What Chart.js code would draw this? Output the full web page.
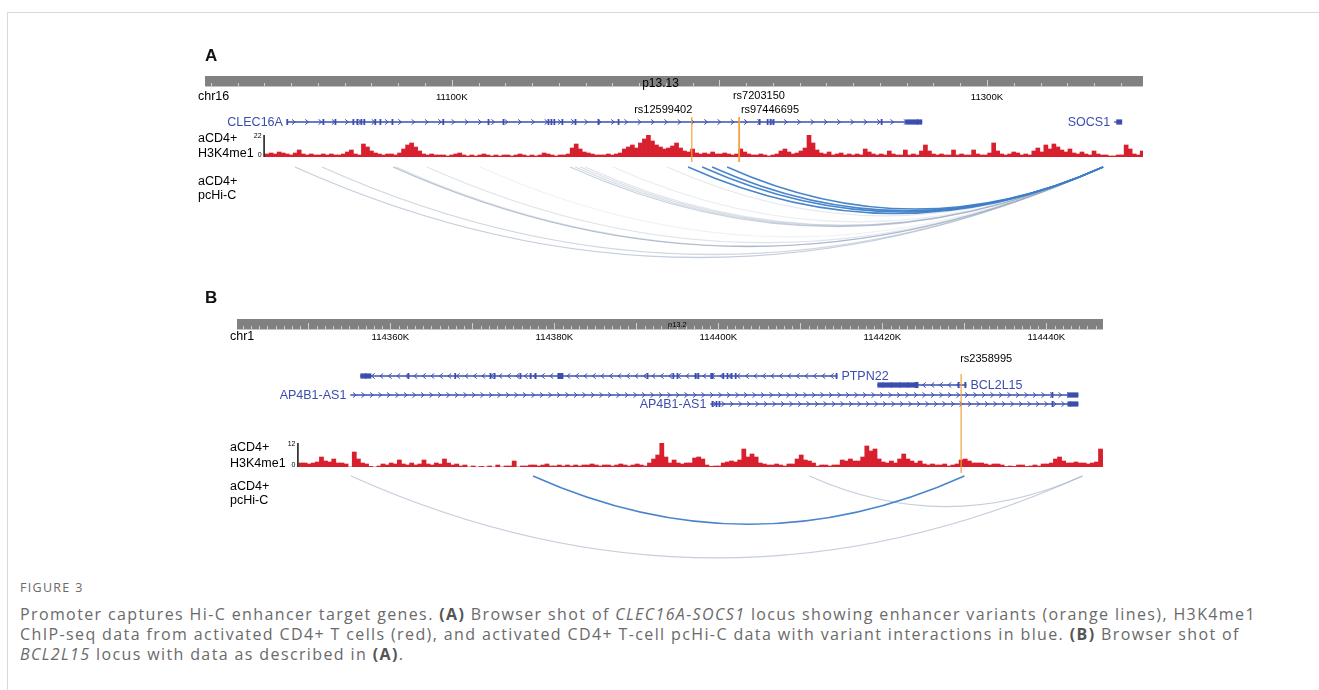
<!DOCTYPE html>
<html>
<head>
<meta charset="utf-8">
<script src="https://cdn.jsdelivr.net/npm/chart.js@4.4.1/dist/chart.umd.min.js"></script>
<style>
html, body { margin: 0; padding: 0; background: #fff; }
body { width: 1319px; height: 690px; position: relative; overflow: hidden; }
#frame { position: absolute; left: 7px; top: 12px; right: -2px; bottom: -2px; border-top: 1px solid #d9d9d9; border-left: 1px solid #d9d9d9; }
canvas { position: absolute; left: 0; }
#cA { top: 0; }
#cB { top: 280px; }
#fig { position: absolute; left: 20px; top: 581px; font: 12.5px/14px "Open Sans", sans-serif; letter-spacing: 1.3px; color: #6a6a6a; }
#cap { position: absolute; left: 20px; top: 604px; font: 16px/20px "Open Sans", sans-serif; letter-spacing: 1.38px; color: #6a6a6a; white-space: nowrap; }
#cap b { color: #555; font-weight: 700; }
</style>
</head>
<body>
<div id="frame"></div>
<canvas id="cA" width="1319" height="280"></canvas>
<canvas id="cB" width="1319" height="290"></canvas>
<div id="fig">FIGURE 3</div>
<div id="cap">Promoter captures Hi-C enhancer target genes. <b>(A)</b> Browser shot of <i>CLEC16A-SOCS1</i> locus showing enhancer variants (orange lines), H3K4me1<br>ChIP-seq data from activated CD4+ T cells (red), and activated CD4+ T-cell pcHi-C data with variant interactions in blue. <b>(B)</b> Browser shot of<br><i>BCL2L15</i> locus with data as described in <b>(A)</b>.</div>
<script>
// ---------- Panel A : chr16, CLEC16A - SOCS1 (positions in kb) ----------
const viewA = [11007.8, 11358.3];
const chromA = 'chr16';
const bandA = 'p13.13';
const bandPosA = 11178;
const tickPosA = [11100, 11300];
const tickLabelsA = ['11100K', '11300K'];

const geneNameA = ['CLEC16A', 'SOCS1'];
const geneStartA = [11038.4, 11347.5];
const geneEndA = [11275.8, 11350.5];
const geneStrandA = ['+', '-'];
const geneThickA = [[11269.5, 11275.8], [11348.3, 11350.5]];
const geneExonsA = [
    [[11038.2, 11038.8], [11051.7, 11052.1], [11056.2, 11056.6], [11062.9, 11063.3], [11064.4, 11064.8],
     [11065.9, 11066.3], [11067.0, 11067.4], [11071.1, 11071.5], [11073.0, 11073.4], [11077.5, 11077.9],
     [11096.5, 11096.9], [11113.4, 11113.8], [11119.0, 11119.4], [11135.8, 11136.2], [11136.9, 11137.3],
     [11138.0, 11138.4], [11141.0, 11141.4], [11145.9, 11146.3], [11154.5, 11154.9], [11162.0, 11162.4],
     [11214.7, 11215.1], [11217.7, 11218.1], [11218.8, 11219.2], [11219.9, 11220.3], [11260.3, 11260.7]],
    []
];

const snpIdA = ['rs12599402', 'rs7203150', 'rs97446695'];
const snpPosA = [11189.7, 11207.3, 11207.5];

// H3K4me1 signal, 1.5 kb bins
const sigStartA = 11031;
const sigBinA = 1.5;
const sigMaxA = 22;
const sigA = [
    3, 4, 3, 5, 4, 3, 2, 4, 7, 3,
    2, 3, 2, 2, 3, 2, 3, 2, 2, 3,
    5, 7, 3, 2, 13, 10, 6, 4, 3, 2,
    3, 3, 2, 4, 8, 12, 14, 10, 6, 3,
    2, 3, 2, 2, 2, 1, 2, 3, 4, 2,
    1, 2, 1, 2, 3, 2, 1, 2, 1, 2,
    2, 1, 2, 3, 2, 1, 2, 1, 2, 4,
    3, 2, 1, 2, 2, 3, 9, 13, 8, 5,
    4, 3, 2, 2, 2, 3, 2, 3, 4, 8,
    10, 12, 9, 14, 18, 22, 16, 12, 10, 8,
    9, 11, 14, 9, 6, 5, 8, 4, 3, 4,
    3, 5, 3, 3, 4, 3, 2, 3, 8, 5,
    3, 2, 2, 3, 2, 1, 2, 3, 6, 8,
    5, 3, 4, 6, 9, 22, 14, 7, 4, 3,
    5, 2, 3, 4, 2, 3, 2, 3, 2, 8,
    5, 3, 2, 3, 2, 6, 3, 2, 2, 7,
    2, 3, 2, 6, 12, 6, 3, 2, 3, 2,
    2, 7, 2, 3, 2, 2, 7, 3, 2, 2,
    4, 14, 6, 3, 2, 3, 5, 4, 2, 3,
    2, 6, 9, 5, 12, 8, 13, 10, 7, 5,
    8, 4, 3, 5, 3, 2, 6, 3, 2, 2,
    1, 1, 2, 2, 12, 8, 3, 2, 6, 10
];

// pcHi-C interactions: other end, bait end, score (0-1), variant interaction
const arcFromA = [11041.4, 11051.5, 11078.1, 11079.2, 11090.8, 11110.6, 11144.2, 11146.1, 11148.0, 11149.8,
                  11160.3, 11180.5, 11188.3, 11193.6, 11197.3, 11202.9];
const arcToA = [11343.4, 11343.4, 11343.4, 11343.4, 11343.4, 11343.4, 11343.4, 11343.4, 11343.4, 11343.4,
                11343.4, 11343.4, 11343.4, 11343.4, 11343.4, 11343.4];
const arcScoreA = [0.55, 0.45, 0.7, 0.35, 0.3, 0.15, 0.5, 0.4, 0.35, 0.3, 0.2, 0.25, 1, 1, 1, 1];
const arcVariantA = [false, false, false, false, false, false, false, false, false, false, false, false, true, true, true, true];

// ---------- Panel B : chr1, PTPN22 / BCL2L15 ----------
const viewB = [114341.3, 114446.9];
const chromB = 'chr1';
const bandB = 'p13.2';
const bandPosB = 114395;
const tickPosB = [114360, 114380, 114400, 114420, 114440];
const tickLabelsB = ['114360K', '114380K', '114400K', '114420K', '114440K'];

const geneNameB = ['PTPN22', 'BCL2L15', 'AP4B1-AS1', 'AP4B1-AS1'];
const geneStartB = [114356.34, 114419.39, 114355.12, 114399.02];
const geneEndB = [114414.51, 114430.24, 114443.9, 114443.9];
const geneStrandB = ['-', '-', '+', '+'];
const geneThickB = [[114356.34, 114357.68], [114419.39, 114424.02], [114442.56, 114443.9], [114442.56, 114443.9]];
const geneExonsB = [
    [[114362.1, 114362.3], [114367.8, 114368.0], [114372.1, 114372.3], [114372.6, 114372.8], [114375.75, 114375.95],
     [114377.0, 114377.2], [114377.6, 114377.8], [114380.37, 114381.1], [114391.25, 114391.45], [114394.4, 114394.6],
     [114394.9, 114395.1], [114397.1, 114397.3], [114397.45, 114397.65], [114399.02, 114399.39], [114400.5, 114400.7],
     [114401.0, 114401.2], [114401.5, 114401.7], [114402.0, 114402.2], [114414.3, 114414.51]],
    [[114423.95, 114424.4], [114429.17, 114429.37], [114430.0, 114430.24]],
    [[114440.63, 114440.83]],
    [[114399.17, 114399.37], [114399.66, 114399.86], [114400.02, 114400.22], [114440.63, 114440.83]]
];

const snpIdB = ['rs2358995'];
const snpPosB = [114429.6];

// H3K4me1 signal, 0.5 kb bins
const sigStartB = 114349.1;
const sigBinB = 0.5;
const sigMaxB = 12;
const sigB = [
    2, 2, 1.5, 2, 2.5, 5, 3, 2.5, 4, 2,
    2, 1.5, 0, 7.5, 4, 2, 1.5, 0.3, 0, 0.5,
    1.5, 1, 2, 1.5, 3.5, 1.5, 1, 2, 1, 1.5,
    3.5, 1.5, 1, 2, 1.5, 4, 2, 1, 1.5, 0.5,
    1, 0, 0.5, 0, 0.3, 0, 0.5, 0, 1, 0,
    0.5, 0.5, 3, 0, 0.5, 0.5, 1, 1, 0.5, 1,
    1.5, 0.5, 0.5, 1, 0.5, 1, 0.5, 1, 0.5, 1,
    1, 1.5, 1, 0.5, 1, 1, 0.5, 1, 1.5, 1,
    0.5, 1, 1.5, 1, 0.5, 2, 4, 6, 12, 5,
    2, 3.5, 2, 1.5, 2, 2, 4.5, 5, 4, 1,
    0.3, 0.5, 0.5, 2, 2.5, 3, 2.5, 3.5, 9, 5,
    6.5, 5, 2, 1.5, 1, 1, 1.5, 1, 0.5, 1.5,
    1.5, 4, 6, 3.5, 3, 2, 0.5, 1, 1, 0.5,
    1, 1, 3.5, 3, 4, 3, 3, 5, 10.5, 8,
    9, 4, 2.5, 2, 3, 2, 4, 6.5, 4, 3,
    2, 3, 1.5, 1, 1.5, 1, 1, 1.5, 0.5, 1,
    1.5, 3.5, 4, 3, 2, 2, 2, 1.5, 1, 1.5,
    1.5, 1, 0.3, 0.5, 0.3, 1, 1, 0.3, 0.5, 1,
    0.5, 1.5, 1.5, 2, 4, 5, 3, 2, 2, 2.5,
    2, 2, 1.5, 2, 2.5, 9, 6
];

const arcFromB = [114355.2, 114377.4, 114411.1];
const arcToB = [114444.4, 114430.0, 114444.4];
const arcScoreB = [0.55, 1, 0.55];
const arcVariantB = [false, true, false];

// ---------- drawing ----------
const FONT = '"Liberation Sans", Arial, sans-serif';
const GENE_BLUE = '#3b4eae';
const SIG_RED = '#d81f2e';
const SNP_ORANGE = '#f3a23c';
const ARC_BLUE = '62, 126, 200';
const ARC_GREY = '150, 166, 190';

function drawGene(ctx, xs, i, P, L) {
    const y = L.geneRowY[i];
    const x1 = xs.getPixelForValue(P.gStart[i]);
    const x2 = xs.getPixelForValue(P.gEnd[i]);
    ctx.strokeStyle = GENE_BLUE;
    ctx.fillStyle = GENE_BLUE;
    ctx.lineWidth = 1.3;
    ctx.beginPath();
    ctx.moveTo(x1, y);
    ctx.lineTo(x2, y);
    ctx.stroke();

    // strand chevrons
    const dir = P.gStrand[i] === '+' ? 1 : -1;
    ctx.lineWidth = 1;
    ctx.beginPath();
    for (let cx = x1 + L.chevronGap / 2; cx < x2 - 3; cx += L.chevronGap) {
        ctx.moveTo(cx - 1.6 * dir, y - 2.6);
        ctx.lineTo(cx + 1.6 * dir, y);
        ctx.lineTo(cx - 1.6 * dir, y + 2.6);
    }
    ctx.stroke();

    P.gExons[i].forEach(([s, e]) => {
        const a = xs.getPixelForValue(s), b = xs.getPixelForValue(e);
        ctx.fillRect(a, y - 3, Math.max(b - a, 1.8), 6);
    });
    const t = P.gThick[i];
    if (t) {
        const a = xs.getPixelForValue(t[0]), b = xs.getPixelForValue(t[1]);
        ctx.fillRect(a, y - 2.6, b - a, 5.2);
    }

    ctx.font = '12.5px ' + FONT;
    ctx.textBaseline = 'middle';
    if (L.labelRight[i]) {
        ctx.textAlign = 'left';
        ctx.fillText(P.gName[i], x2 + 4, y + 0.5);
    } else {
        ctx.textAlign = 'right';
        ctx.fillText(P.gName[i], x1 - 4, y + 0.5);
    }
}

function drawArc(ctx, x1, x2, y0, color, width) {
    const span = Math.abs(x2 - x1);
    ctx.strokeStyle = color;
    ctx.lineWidth = width;
    ctx.beginPath();
    ctx.moveTo(x1, y0);
    ctx.quadraticCurveTo((x1 + x2) / 2, y0 + span * 0.224, x2, y0);
    ctx.stroke();
}

function tracksPlugin(P, L) {
    return {
        id: 'tracks',
        afterDraw(chart) {
            const ctx = chart.ctx;
            const xs = chart.scales.x, ys = chart.scales.y;
            ctx.save();
            ctx.translate(0, -L.top);

            // panel letter
            ctx.fillStyle = '#111';
            ctx.font = 'bold 17px ' + FONT;
            ctx.textAlign = 'left';
            ctx.textBaseline = 'alphabetic';
            ctx.fillText(L.letter, 205, L.letterY);

            // ideogram / ruler bar
            const rl = xs.left, rr = xs.right;
            ctx.fillStyle = '#818181';
            ctx.fillRect(rl, L.rulerTop, rr - rl, L.rulerBottom - L.rulerTop);
            ctx.fillStyle = '#c4c4c4';
            ctx.fillRect(rl, L.rulerBottom - 1, rr - rl, 1);
            ctx.strokeStyle = '#cfcfcf';
            ctx.lineWidth = 1;
            ctx.beginPath();
            const first = Math.ceil(xs.min / L.minor) * L.minor;
            for (let v = first; v <= xs.max; v += L.minor) {
                const px = Math.round(xs.getPixelForValue(v)) + 0.5;
                const isMajor = Math.abs(v / L.major - Math.round(v / L.major)) < 1e-6;
                const h = isMajor ? 6 : 3;
                ctx.moveTo(px, L.rulerBottom - 1);
                ctx.lineTo(px, L.rulerBottom - 1 - h);
            }
            ctx.stroke();

            ctx.fillStyle = '#000';
            ctx.font = L.bandFont + 'px ' + FONT;
            ctx.textAlign = 'center';
            ctx.fillText(P.band, xs.getPixelForValue(P.bandPos), L.bandY);

            ctx.font = '9.6px ' + FONT;
            P.tickPos.forEach((v, i) => {
                ctx.fillText(P.tickLabels[i], xs.getPixelForValue(v), L.tickLabelY);
            });
            ctx.font = '12.5px ' + FONT;
            ctx.textAlign = 'left';
            ctx.fillText(P.chrom, L.labelX, L.chromY);

            // genes
            P.gName.forEach((_, i) => drawGene(ctx, xs, i, P, L));

            // SNP lines and labels
            ctx.font = '11px ' + FONT;
            ctx.textBaseline = 'alphabetic';
            P.snpId.forEach((id, i) => {
                const px = xs.getPixelForValue(P.snpPos[i]);
                ctx.strokeStyle = SNP_ORANGE;
                ctx.lineWidth = 1.2;
                ctx.beginPath();
                ctx.moveTo(px, L.snpTop);
                ctx.lineTo(px, L.snpBottom);
                ctx.stroke();
                const lab = L.snpLabels[i];
                ctx.fillStyle = '#000';
                ctx.textAlign = lab.align;
                ctx.fillText(id, px + lab.dx, lab.y);
            });

            // signal axis
            const ax = xs.getPixelForValue(P.sigStart - P.sigBin / 2) - 1;
            ctx.strokeStyle = '#000';
            ctx.lineWidth = 1.4;
            ctx.beginPath();
            ctx.moveTo(ax, ys.getPixelForValue(P.sigMax) + L.top);
            ctx.lineTo(ax, ys.getPixelForValue(0) + L.top);
            ctx.stroke();
            ctx.fillStyle = '#000';
            ctx.font = '7px ' + FONT;
            ctx.textAlign = 'right';
            ctx.fillText(String(P.sigMax), ax - 2.5, ys.getPixelForValue(P.sigMax) + L.top + 3);
            ctx.fillText('0', ax - 2.5, ys.getPixelForValue(0) + L.top);

            // track labels
            ctx.font = '12.5px ' + FONT;
            ctx.textAlign = 'left';
            L.trackLabels.forEach(([t, y]) => ctx.fillText(t, L.labelX, y));

            // pcHi-C arcs, grey first then variant interactions
            [false, true].forEach(pass => {
                P.arcFrom.forEach((a, i) => {
                    if (P.arcVariant[i] !== pass) return;
                    const x1 = xs.getPixelForValue(a), x2 = xs.getPixelForValue(P.arcTo[i]);
                    const col = pass ? 'rgba(' + ARC_BLUE + ', 0.95)' : 'rgba(' + ARC_GREY + ', ' + P.arcScore[i] + ')';
                    drawArc(ctx, x1, x2, L.arcY, col, pass ? 1.5 : 1.3);
                });
            });
            ctx.restore();
        }
    };
}

function makePanel(id, P, L) {
    const points = P.sig.map((v, i) => ({ x: P.sigStart + i * P.sigBin, y: v }));
    new Chart(document.getElementById(id), {
        type: 'bar',
        data: {
            datasets: [{
                data: points,
                backgroundColor: SIG_RED,
                borderWidth: 0,
                barPercentage: 1,
                categoryPercentage: 1
            }]
        },
        options: {
            responsive: false,
            animation: false,
            devicePixelRatio: 1,
            layout: { padding: L.pad },
            plugins: { legend: { display: false }, tooltip: { enabled: false } },
            scales: {
                x: { type: 'linear', min: P.view[0], max: P.view[1], offset: false, display: false },
                y: { min: 0, max: P.sigMax, display: false }
            }
        },
        plugins: [tracksPlugin(P, L)]
    });
}

makePanel('cA', {
    view: viewA, chrom: chromA, band: bandA, bandPos: bandPosA, tickPos: tickPosA, tickLabels: tickLabelsA,
    gName: geneNameA, gStart: geneStartA, gEnd: geneEndA, gStrand: geneStrandA, gThick: geneThickA, gExons: geneExonsA,
    snpId: snpIdA, snpPos: snpPosA, sig: sigA, sigStart: sigStartA, sigBin: sigBinA, sigMax: sigMaxA,
    arcFrom: arcFromA, arcTo: arcToA, arcScore: arcScoreA, arcVariant: arcVariantA
}, {
    top: 0, pad: { left: 205, right: 176, top: 135, bottom: 123 },
    letter: 'A', letterY: 60.5,
    rulerTop: 76, rulerBottom: 87, minor: 10, major: 100, tickLabelY: 99.5,
    bandFont: 12, bandY: 86.5, labelX: 198, chromY: 100,
    geneRowY: [122, 122], labelRight: [false, false], chevronGap: 13.3,
    snpTop: 117, snpBottom: 162,
    snpLabels: [{ align: 'right', dx: 0.5, y: 113 }, { align: 'center', dx: 20, y: 99 }, { align: 'left', dx: 1.5, y: 113 }],
    trackLabels: [['aCD4+', 142], ['H3K4me1', 157], ['aCD4+', 185], ['pcHi-C', 198.5]],
    arcY: 167
});

makePanel('cB', {
    view: viewB, chrom: chromB, band: bandB, bandPos: bandPosB, tickPos: tickPosB, tickLabels: tickLabelsB,
    gName: geneNameB, gStart: geneStartB, gEnd: geneEndB, gStrand: geneStrandB, gThick: geneThickB, gExons: geneExonsB,
    snpId: snpIdB, snpPos: snpPosB, sig: sigB, sigStart: sigStartB, sigBin: sigBinB, sigMax: sigMaxB,
    arcFrom: arcFromB, arcTo: arcToB, arcScore: arcScoreB, arcVariant: arcVariantB
}, {
    top: 280, pad: { left: 237, right: 216, top: 163, bottom: 103 },
    letter: 'B', letterY: 303,
    rulerTop: 319, rulerBottom: 330, minor: 1, major: 10, tickLabelY: 340,
    bandFont: 7.5, bandY: 327, labelX: 230, chromY: 340,
    geneRowY: [376, 385, 395, 404], labelRight: [true, true, false, false], chevronGap: 8.5,
    snpTop: 374, snpBottom: 473,
    snpLabels: [{ align: 'left', dx: -1, y: 362 }],
    trackLabels: [['aCD4+', 451], ['H3K4me1', 466.5], ['aCD4+', 490], ['pcHi-C', 504]],
    arcY: 476
});
</script>
</body>
</html>
